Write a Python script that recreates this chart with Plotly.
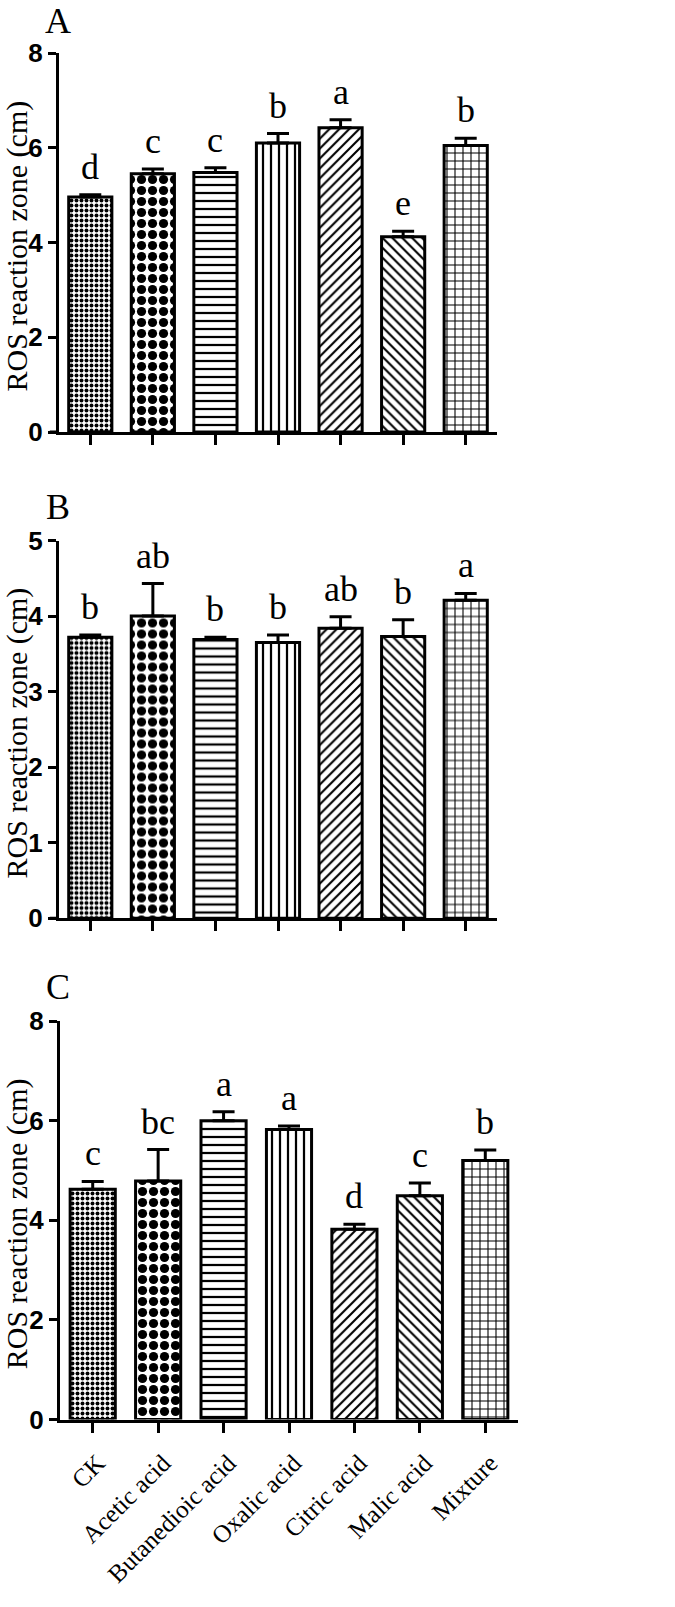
import plotly.graph_objects as go

categories = ["CK", "Acetic acid", "Butanedioic acid", "Oxalic acid",
              "Citric acid", "Malic acid", "Mixture"]

a_mean = [4.96, 5.45, 5.48, 6.10, 6.42, 4.12, 6.05]
a_err = [0.05, 0.10, 0.10, 0.20, 0.17, 0.12, 0.15]
a_sig = ["d", "c", "c", "b", "a", "e", "b"]

b_mean = [3.72, 4.00, 3.69, 3.65, 3.84, 3.73, 4.21]
b_err = [0.03, 0.43, 0.03, 0.10, 0.15, 0.22, 0.09]
b_sig = ["b", "ab", "b", "b", "ab", "b", "a"]

c_mean = [4.62, 4.79, 6.00, 5.82, 3.82, 4.49, 5.20]
c_err = [0.16, 0.63, 0.18, 0.07, 0.10, 0.26, 0.21]
c_sig = ["c", "bc", "a", "a", "d", "c", "b"]

panel_labels = ["A", "B", "C"]
y_title = "ROS reaction zone (cm)"
y_max = [8, 5, 8]
y_dtick = [2, 1, 2]

pat_shape = [".", ".", "-", "|", "/", "\\", "+"]
pat_size = [5, 11, 8, 8, 7, 7, 8]
pat_solid = [0.5, 0.55, 0.28, 0.28, 0.3, 0.3, 0.25]

W, H = 675, 1607
serif = "Liberation Serif, Times New Roman, serif"
sans = "Liberation Sans Narrow, Liberation Sans, Arial, sans-serif"

# page-pixel layout of each panel: (x_left, x_right, y_top, y_zero)
panels_px = [(59, 497, 53, 432), (59, 497, 540.5, 918.3), (60, 518, 1021, 1419.5)]
label_y_px = [21, 507, 987]


def px_x(p):
    return p / W


def px_y(p):
    return 1 - p / H


fig = go.Figure()
means = [a_mean, b_mean, c_mean]
errs = [a_err, b_err, c_err]
sigs = [a_sig, b_sig, c_sig]

annotations = []
shapes = []
for k in range(3):
    xl, xr, yt, yz = panels_px[k]
    sfx = "" if k == 0 else str(k + 1)
    xa = "x" + sfx
    ya = "y" + sfx
    fig.add_trace(go.Bar(
        x=list(range(len(categories))), y=means[k], xaxis=xa, yaxis=ya,
        width=0.69,
        marker=dict(color="white", line=dict(color="black", width=3),
                    pattern=dict(shape=pat_shape, size=pat_size, solidity=pat_solid,
                                 fgcolor="black", bgcolor="white", fgopacity=1)),
        error_y=dict(type="data", symmetric=False, array=errs[k],
                     arrayminus=[0] * len(categories), color="black",
                     thickness=3, width=11),
        showlegend=False, hoverinfo="skip",
    ))
    xaxis = dict(domain=[px_x(xl), px_x(xr)], anchor=ya, range=[-0.5, 6.5],
                 automargin=False,
                 showline=True, linecolor="black", linewidth=3,
                 ticks="outside", ticklen=10, tickwidth=2.5, tickcolor="black",
                 tickvals=list(range(len(categories))), ticktext=categories,
                 showgrid=False, zeroline=False,
                 showticklabels=(k == 2), tickangle=-45,
                 ticklabelshift=5, ticklabelstandoff=6,
                 tickfont=dict(family=serif, size=25, color="black"))
    yaxis = dict(domain=[px_y(yz), px_y(yt)], anchor=xa,
                 range=[0, y_max[k]], dtick=y_dtick[k], automargin=False,
                 showline=True, linecolor="black", linewidth=3,
                 ticks="outside", ticklen=8, tickwidth=2.5, tickcolor="black",
                 showgrid=False, zeroline=False,
                 tickfont=dict(family=sans, size=26, color="black", weight="bold"))
    fig.update_layout(**{"xaxis" + sfx: xaxis, "yaxis" + sfx: yaxis})
    for i, s in enumerate(sigs[k]):
        annotations.append(dict(x=i, y=means[k][i] + errs[k][i], xref=xa, yref=ya,
                                text=s, showarrow=False, yanchor="bottom", yshift=6,
                                font=dict(family=serif, size=36, color="black")))
    annotations.append(dict(x=px_x(58), y=px_y(label_y_px[k]), xref="paper", yref="paper",
                            text=panel_labels[k], showarrow=False,
                            xanchor="center", yanchor="middle",
                            font=dict(family=serif, size=36, color="black")))
    annotations.append(dict(x=px_x(17), y=px_y((yt + yz) / 2 + 4), xref="paper", yref="paper",
                            text=y_title, textangle=-90, showarrow=False,
                            xanchor="center", yanchor="middle",
                            font=dict(family=serif, size=30, color="black")))
    shapes.append(dict(type="line", xref=xa + " domain", yref=ya,
                       x0=-0.021, x1=0.0, y0=0, y1=0,
                       line=dict(color="black", width=3)))

fig.update_layout(width=W, height=H,
                  margin=dict(l=0, r=0, t=0, b=0, autoexpand=False),
                  paper_bgcolor="white", plot_bgcolor="white",
                  annotations=annotations, shapes=shapes, bargap=0.3)
fig.write_html("out.html", config={"displayModeBar": False},
               post_script="document.body.style.margin='0px';")
